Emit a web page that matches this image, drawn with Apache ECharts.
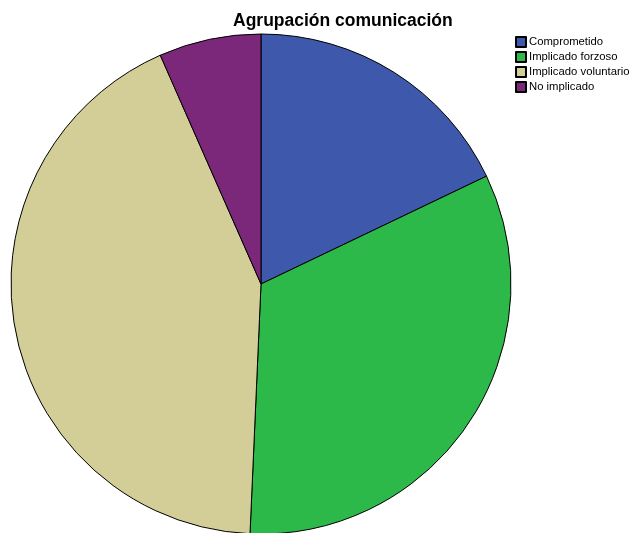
<!DOCTYPE html>
<html>
<head>
<meta charset="utf-8">
<script src="https://cdn.jsdelivr.net/npm/echarts@6/dist/echarts.min.js"></script>
<style>html,body{margin:0;padding:0;background:#fff}#c{width:632px;height:533px}</style>
</head>
<body>
<div id="c"></div>
<script>
const categories = ["Comprometido", "Implicado forzoso", "Implicado voluntario", "No implicado"];
const values = [17.9, 32.8, 42.7, 6.6];
const colors = ["#3e58ac", "#2db84a", "#d3ce97", "#7b277a"];

const chart = echarts.init(document.getElementById('c'), null, {renderer: 'canvas'});
chart.setOption({
  animation: false,
  title: {
    text: "Agrupación comunicación",
    left: 228, top: 7,
    textStyle: {fontFamily: 'Liberation Sans, Arial', fontWeight: 'bold', fontSize: 17.5, color: '#000'}
  },
  legend: {
    orient: 'vertical',
    left: 510, top: 31,
    itemWidth: 10, itemHeight: 10, itemGap: 3,
    icon: 'rect',
    data: categories,
    textStyle: {fontFamily: 'Liberation Sans, Arial', fontSize: 11.3, lineHeight: 10, color: '#000', padding: [0,0,0,-2]}
  },
  series: [{
    type: 'pie',
    center: [261, 284],
    radius: 250,
    startAngle: 90,
    clockwise: true,
    label: {show: false},
    labelLine: {show: false},
    emphasis: {disabled: true},
    itemStyle: {borderColor: '#000', borderWidth: 1},
    data: categories.map((c, i) => ({name: c, value: values[i], itemStyle: {color: colors[i]}}))
  }]
});
</script>
</body>
</html>
